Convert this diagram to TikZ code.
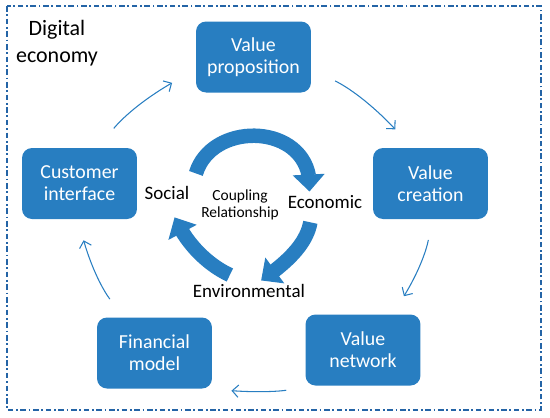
\documentclass[tikz,border=0pt]{standalone}
\usepackage{fontspec}
\setmainfont{Carlito}
\usetikzlibrary{arrows.meta,bending}
\definecolor{boxblue}{RGB}{40,126,193}
\definecolor{frameblue}{RGB}{36,100,166}

\begin{document}
\begin{tikzpicture}[
    x=0.02cm, y=0.02cm,
    box/.style={rectangle, rounded corners=0.2cm, fill=boxblue, text=white, align=center, minimum width=2.3cm, minimum height=1.42cm, font=\fontsize{11.3}{12.6}\selectfont},
    dim_txt/.style={font=\fontsize{10.8}{12}\selectfont, inner sep=2pt},
    flow/.style={draw=boxblue, line width=0.6pt, -{Straight Barb[length=3.5pt,width=7pt]}},
    cyc/.style={draw=boxblue, line width=0.29cm, -{Triangle[width=0.62cm,length=0.34cm]}},
    frame_box/.style={draw=frameblue, line width=1.1pt, dash pattern=on 3.2pt off 1.5pt on 1pt off 1.5pt}
]
\useasboundingbox (0,0) rectangle (550,-417);

% --- OUTER FRAME ---
\draw[frame_box] (7,-6) rectangle (541,-410);
\node[align=center, font=\fontsize{12.5}{15.3}\selectfont] (de) at (57,-43) {Digital\\economy};

% --- BUSINESS MODEL BOXES ---
\node[box] (vp) at (253.5,-57) {Value\\proposition};
\node[box] (vc) at (430.5,-183.5) {Value\\creation};
\node[box] (vn) at (363,-350) {Value\\network};
\node[box] (fm) at (154.5,-353) {Financial\\model};
\node[box] (ci) at (79.5,-183.5) {Customer\\interface};

% --- COUPLING CYCLE ---
\node[dim_txt] (soc) at (167,-193) {Social};
\node[dim_txt] (eco) at (325,-202) {Economic};
\node[dim_txt] (env) at (249,-291) {Environmental};
\node[align=center, font=\fontsize{8.8}{9.4}\selectfont] (cpl) at (240,-205) {Coupling\\Relationship};

% Arrows
\draw[flow, shorten <=0.5cm, shorten >=0.55cm] (ci.63) to[bend left=12] (vp.193.5);
\draw[flow, shorten <=0.53cm, shorten >=0.5cm] (vp.-12) to[bend left=12] (vc.118);
\draw[flow, shorten <=0.42cm, shorten >=0.44cm] (vc.-87) to[bend left=12] (vn.51);
\draw[flow, shorten <=0.52cm, shorten >=0.4cm] (vn.215) to[bend left=8] (fm.-32);
\draw[flow, shorten <=0.45cm, shorten >=0.44cm] (fm.131) to[bend left=12] (ci.-92);

\draw[cyc, shorten <=0.19cm] (soc.north east) to[out=73, in=85, looseness=1.5] (eco.146);
\draw[cyc, shorten <=0.2cm] (eco.219) to[out=-100, in=35] (env.41);
\draw[cyc, shorten <=0.26cm, shorten >=0.3cm] (env.125) to[out=155, in=-70] (soc.-80);

\end{tikzpicture}
\end{document}
